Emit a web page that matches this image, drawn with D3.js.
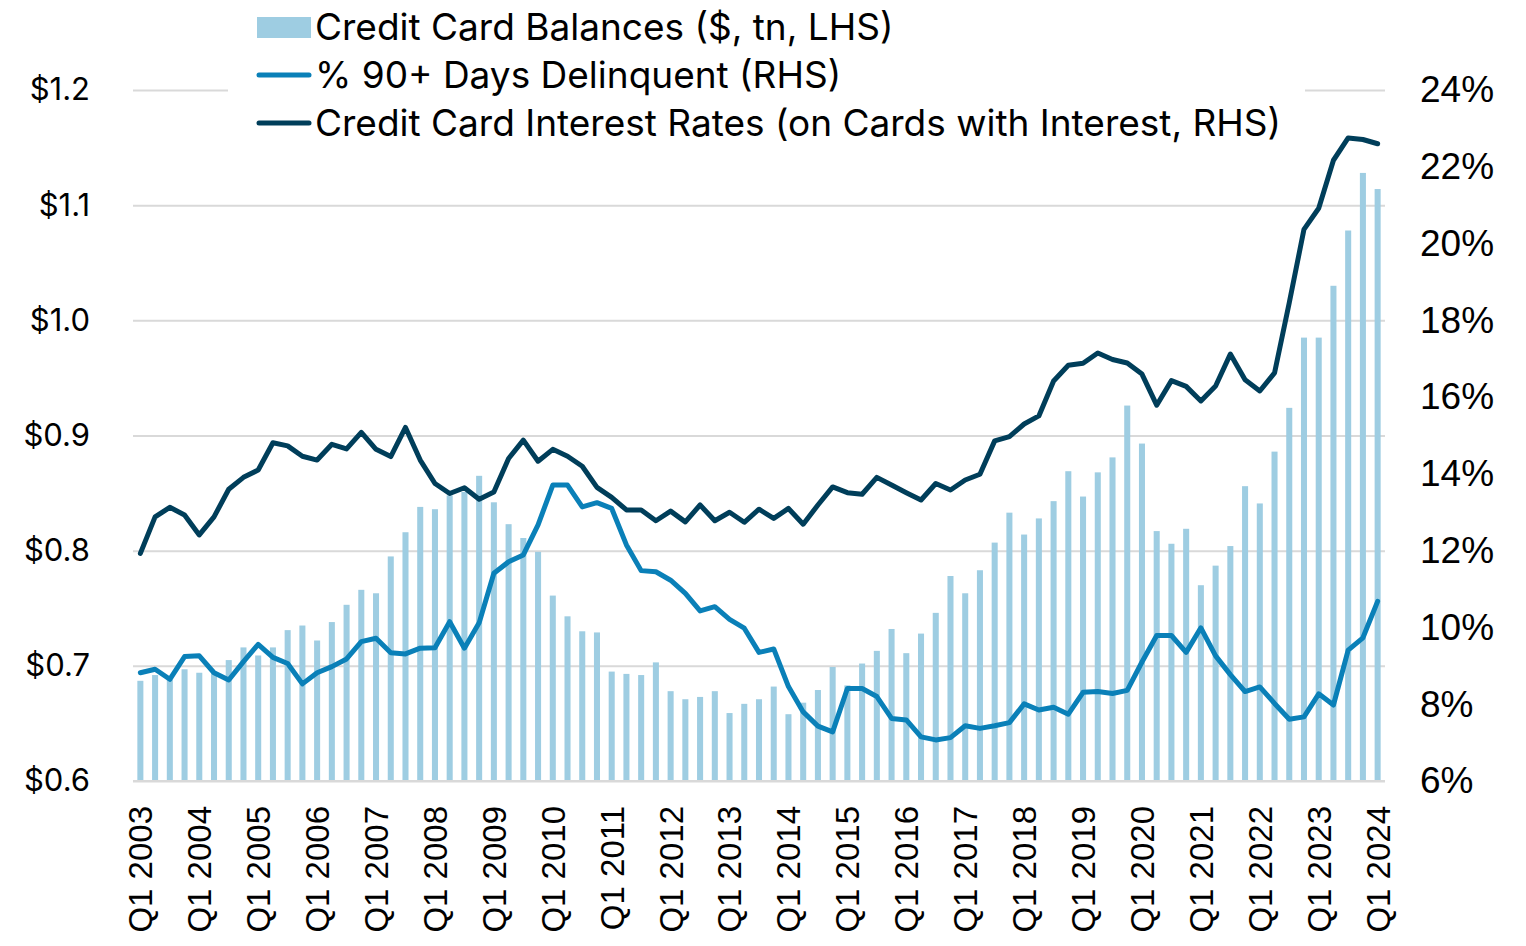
<!DOCTYPE html>
<html>
<head>
<meta charset="utf-8">
<script src="https://cdn.jsdelivr.net/npm/d3@7"></script>
<style>
  body { margin: 0; background: #fff; }
  svg { display: block; }
</style>
</head>
<body>
<svg id="chart" width="1526" height="946"></svg>
<script>
// quarterly, Q1 2003 .. Q1 2024
const quarters = [];
for (let y = 2003; y <= 2024; y++) {
  for (let q = 1; q <= 4; q++) {
    if (y === 2024 && q > 1) break;
    quarters.push("Q" + q + " " + y);
  }
}
const tickLabels = quarters.filter(d => d.startsWith("Q1"));

// credit card balances, $ tn (LHS)
const balances = [
  0.687, 0.692, 0.688, 0.697, 0.694, 0.695, 0.705, 0.716, 0.709, 0.716,
  0.731, 0.735, 0.722, 0.738, 0.753, 0.766, 0.763, 0.795, 0.816, 0.838,
  0.836, 0.848, 0.851, 0.865, 0.842, 0.823, 0.811, 0.799, 0.761, 0.743,
  0.730, 0.729, 0.695, 0.693, 0.692, 0.703, 0.678, 0.671, 0.673, 0.678,
  0.659, 0.667, 0.671, 0.682, 0.658, 0.668, 0.679, 0.699, 0.683, 0.702,
  0.713, 0.732, 0.711, 0.728, 0.746, 0.778, 0.763, 0.783, 0.807, 0.833,
  0.814, 0.828, 0.843, 0.869, 0.847, 0.868, 0.881, 0.926, 0.893, 0.817,
  0.806, 0.819, 0.770, 0.787, 0.804, 0.856, 0.841, 0.886, 0.924, 0.985,
  0.985, 1.030, 1.078, 1.128, 1.114
];

// % of balances 90+ days delinquent (RHS)
const delinquent = [
  8.82, 8.91, 8.65, 9.24, 9.26, 8.82, 8.63, 9.11, 9.56, 9.22,
  9.06, 8.53, 8.82, 8.98, 9.18, 9.63, 9.72, 9.34, 9.31, 9.46,
  9.47, 10.15, 9.46, 10.12, 11.41, 11.71, 11.89, 12.67, 13.71, 13.71,
  13.14, 13.25, 13.10, 12.15, 11.48, 11.45, 11.23, 10.89, 10.43, 10.54,
  10.21, 9.98, 9.35, 9.44, 8.46, 7.80, 7.43, 7.28, 8.41, 8.41,
  8.20, 7.63, 7.59, 7.15, 7.07, 7.13, 7.44, 7.37, 7.44, 7.52,
  8.01, 7.85, 7.92, 7.74, 8.31, 8.33, 8.28, 8.36, 9.10, 9.79,
  9.79, 9.35, 9.99, 9.26, 8.77, 8.33, 8.45, 8.02, 7.61, 7.67,
  8.27, 7.98, 9.41, 9.73, 10.68
];

// credit card interest rate on accounts assessed interest (RHS)
const interestRate = [
  11.93, 12.88, 13.13, 12.93, 12.41, 12.88, 13.60, 13.91, 14.10, 14.81,
  14.73, 14.46, 14.36, 14.77, 14.65, 15.08, 14.64, 14.45, 15.21, 14.36,
  13.75, 13.49, 13.64, 13.34, 13.53, 14.40, 14.88, 14.33, 14.64, 14.46,
  14.20, 13.65, 13.39, 13.06, 13.06, 12.78, 13.03, 12.75, 13.19, 12.78,
  13.00, 12.74, 13.08, 12.84, 13.10, 12.69, 13.19, 13.66, 13.51, 13.47,
  13.91, 13.71, 13.51, 13.32, 13.75, 13.58, 13.84, 13.99, 14.86, 14.97,
  15.30, 15.51, 16.42, 16.83, 16.88, 17.15, 16.98, 16.89, 16.60, 15.79,
  16.43, 16.28, 15.90, 16.29, 17.12, 16.45, 16.16, 16.63, 18.46, 20.37,
  20.92, 22.17, 22.75, 22.71, 22.60
];

const leftTicks = [0.6, 0.7, 0.8, 0.9, 1.0, 1.1, 1.2];
const rightTicks = [6, 8, 10, 12, 14, 16, 18, 20, 22, 24];

const legendItems = [
  { label: "Credit Card Balances ($, tn, LHS)", type: "bar" },
  { label: "% 90+ Days Delinquent (RHS)", type: "delinquent" },
  { label: "Credit Card Interest Rates (on Cards with Interest, RHS)", type: "rate" }
];

const colors = { bar: "#9ecde2", delinquent: "#0a80b8", rate: "#003e5a" };

const plotLeft = 133, plotRight = 1385, plotTop = 90, plotBottom = 781;

const svg = d3.select("#chart");

const x = d3.scaleBand()
  .domain(quarters)
  .range([plotLeft, plotRight])
  .paddingInner(0.59)
  .paddingOuter(0.295);

const yL = d3.scaleLinear().domain([0.6, 1.2]).range([plotBottom, plotTop]);
const yR = d3.scaleLinear().domain([6, 24]).range([plotBottom, plotTop]);

// gridlines + left axis
const gL = svg.append("g")
  .attr("transform", "translate(" + plotLeft + ",0)")
  .call(d3.axisLeft(yL)
    .tickValues(leftTicks)
    .tickSize(-(plotRight - plotLeft))
    .tickPadding(43)
    .tickFormat(d => "$" + d3.format(".1f")(d)));
gL.select(".domain").remove();
gL.selectAll(".tick line").attr("stroke", "#d9d9d9").attr("stroke-width", 2);
gL.selectAll(".tick text")
  .attr("fill", "#000")
  .style("font-family", "Inter, Roboto, sans-serif")
  .style("font-size", "31px");

// right axis
const gR = svg.append("g")
  .attr("transform", "translate(" + plotRight + ",0)")
  .call(d3.axisRight(yR)
    .tickValues(rightTicks)
    .tickSize(0)
    .tickPadding(35)
    .tickFormat(d => d + "%"));
gR.select(".domain").remove();
gR.selectAll(".tick text")
  .attr("fill", "#000")
  .style("font-family", "'Liberation Sans', Arial, sans-serif")
  .style("font-size", "37px");

// bars
svg.append("g")
  .selectAll("rect")
  .data(balances)
  .join("rect")
  .attr("x", (d, i) => x(quarters[i]))
  .attr("y", d => yL(d))
  .attr("width", x.bandwidth())
  .attr("height", d => yL(0.6) - yL(d))
  .attr("fill", colors.bar);

// baseline
svg.append("line")
  .attr("x1", plotLeft).attr("x2", plotRight)
  .attr("y1", plotBottom).attr("y2", plotBottom)
  .attr("stroke", "#d9d9d9").attr("stroke-width", 2);

const line = d3.line()
  .x((d, i) => x(quarters[i]) + x.bandwidth() / 2)
  .y(d => yR(d));

svg.append("path")
  .datum(delinquent)
  .attr("fill", "none")
  .attr("stroke", colors.delinquent)
  .attr("stroke-width", 5)
  .attr("stroke-linejoin", "round")
  .attr("stroke-linecap", "round")
  .attr("d", line);

svg.append("path")
  .datum(interestRate)
  .attr("fill", "none")
  .attr("stroke", colors.rate)
  .attr("stroke-width", 5)
  .attr("stroke-linejoin", "round")
  .attr("stroke-linecap", "round")
  .attr("d", line);

// x axis, rotated labels
const gX = svg.append("g")
  .attr("transform", "translate(0," + plotBottom + ")")
  .call(d3.axisBottom(x).tickValues(tickLabels).tickSize(0));
gX.select(".domain").remove();
gX.selectAll(".tick text")
  .attr("transform", "rotate(-90)")
  .attr("x", -25)
  .attr("y", 0)
  .attr("dy", "0.36em")
  .attr("text-anchor", "end")
  .attr("fill", "#000")
  .style("font-family", "'Liberation Sans', Arial, sans-serif")
  .style("font-size", "33px");

// legend
const legend = svg.append("g");
legend.append("rect")
  .attr("x", 228).attr("y", 0)
  .attr("width", 1305 - 228).attr("height", 150)
  .attr("fill", "#fff");

const rowY = d3.scalePoint().domain(d3.range(legendItems.length)).range([27, 123]);

legendItems.forEach((item, i) => {
  const cy = rowY(i);
  if (item.type === "bar") {
    legend.append("rect")
      .attr("x", 257).attr("y", cy - 10)
      .attr("width", 54).attr("height", 21)
      .attr("fill", colors.bar);
  } else {
    legend.append("line")
      .attr("x1", 259).attr("x2", 309)
      .attr("y1", cy).attr("y2", cy)
      .attr("stroke", colors[item.type])
      .attr("stroke-width", 5)
      .attr("stroke-linecap", "round");
  }
  legend.append("text")
    .attr("x", 315)
    .attr("y", cy)
    .attr("dy", "0.36em")
    .style("font-family", "Inter, 'Open Sans', sans-serif")
    .style("font-size", "37px")
    .attr("fill", "#000")
    .text(item.label);
});
</script>
</body>
</html>
